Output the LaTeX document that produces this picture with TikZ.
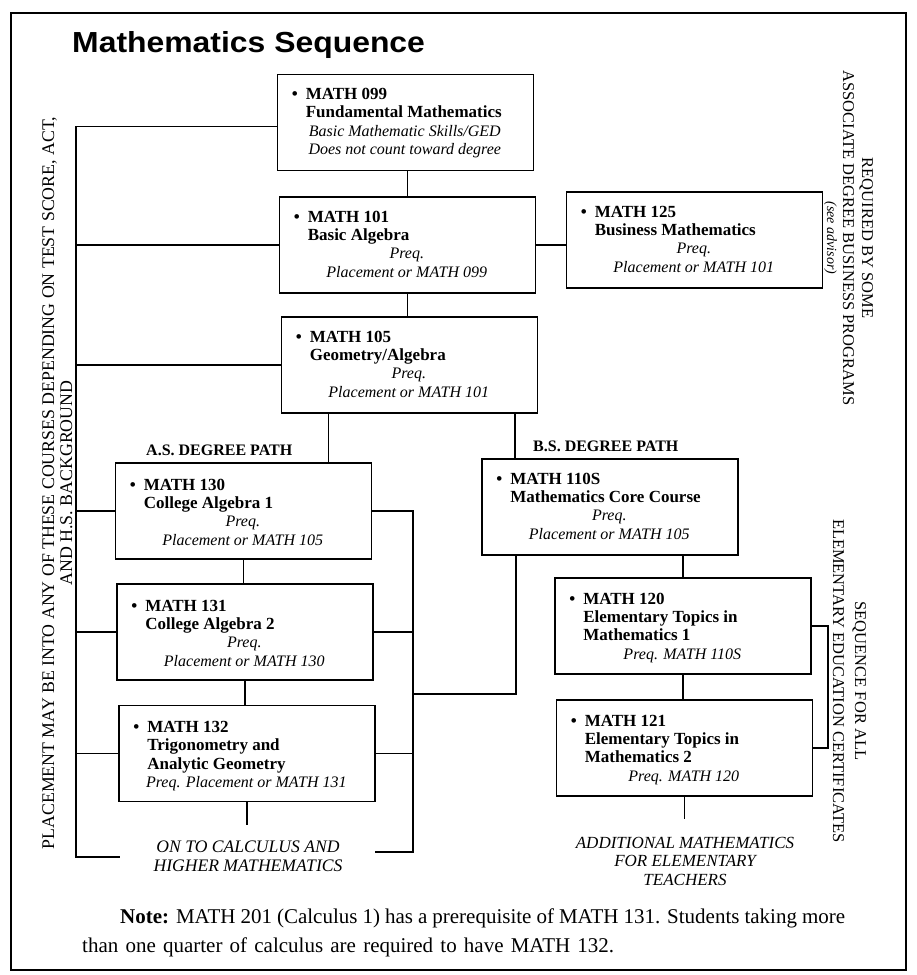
\documentclass[tikz,border=0pt]{standalone}
\usepackage{fontspec}
\setmainfont{Liberation Serif}
\newfontfamily\titlefont{Liberation Sans}
\newcommand\crs[3]{\parbox[t]{226pt}{\fontsize{17}{18.3}\selectfont\raggedright\bfseries\hangindent=14pt\hangafter=1\makebox[14pt][l]{\textbullet}MATH #1\newline #2\par\fontsize{16}{18.3}\selectfont\centering\mdseries\itshape #3\par}}
\begin{document}
\begin{tikzpicture}[x=1pt,y=-1pt,
  course/.style={draw, line width=1.8pt, minimum width=256pt, minimum height=96pt, inner sep=0pt},
  link/.style={line width=1.6pt},
  txt/.style={inner sep=0pt, anchor=base west},
  ctxt/.style={inner sep=0pt, anchor=base}]
\useasboundingbox (0,0) rectangle (917,975);
\draw[line width=2.6pt] (11,13) rectangle (906,970);
\node[txt, xscale=1.1] (title) at (72,52) {\titlefont\bfseries\fontsize{29}{29}\selectfont Mathematics Sequence};
% boxes
\node[course] (b099) at (405.5,122.5) {};
\node[course] (b101) at (407.5,245) {};
\node[course] (b105) at (409.5,365) {};
\node[course] (b125) at (694.5,240) {};
\node[course] (b130) at (243.5,511) {};
\node[course] (b131) at (245,632) {};
\node[course] (b132) at (247,753.5) {};
\node[course] (b110) at (610,507) {};
\node[course] (b120) at (683,626) {};
\node[course] (b121) at (684.5,748) {};
% box texts
\node[txt] (t099) at ([xshift=15pt,yshift=-26pt]b099.north west) {\crs{099}{Fundamental Mathematics}{Basic Mathematic Skills/GED\\Does not count toward degree}};
\node[txt] (t101) at ([xshift=15pt,yshift=-26pt]b101.north west) {\crs{101}{Basic Algebra}{Preq.\\Placement or MATH 099}};
\node[txt] (t105) at ([xshift=15pt,yshift=-26pt]b105.north west) {\crs{105}{Geometry/Algebra}{Preq.\\Placement or MATH 101}};
\node[txt] (t125) at ([xshift=15pt,yshift=-26pt]b125.north west) {\crs{125}{Business Mathematics}{Preq.\\Placement or MATH 101}};
\node[txt] (t130) at ([xshift=15pt,yshift=-28pt]b130.north west) {\crs{130}{College Algebra 1}{Preq.\\Placement or MATH 105}};
\node[txt] (t131) at ([xshift=15pt,yshift=-28pt]b131.north west) {\crs{131}{College Algebra 2}{Preq.\\Placement or MATH 130}};
\node[txt] (t132) at ([xshift=15pt,yshift=-28pt]b132.north west) {\crs{132}{Trigonometry and\newline Analytic Geometry}{Preq. Placement or MATH 131}};
\node[txt] (t110) at ([xshift=15pt,yshift=-26pt]b110.north west) {\crs{110S}{Mathematics Core Course}{Preq.\\Placement or MATH 105}};
\node[txt] (t120) at ([xshift=15pt,yshift=-27pt]b120.north west) {\crs{120}{Elementary Topics in\newline Mathematics 1}{Preq. MATH 110S}};
\node[txt] (t121) at ([xshift=15pt,yshift=-27pt]b121.north west) {\crs{121}{Elementary Topics in\newline Mathematics 2}{Preq. MATH 120}};
% main chain
\draw[link] (b101.north) -- (b101.north |- b099.south);
\draw[link] (b101.south) -- (b101.south |- b105.north);
\draw[link] (b101.east) -- (b101.east -| b125.west);
% left placement bracket
\coordinate (lb) at (76,857);
\coordinate (lbend) at (120,857);
\draw[link] ([yshift=-4pt]b099.west) -| (lb) -- (lbend);
\foreach \b in {101,105,130,131,132} {\draw[link] (b\b.west) -- (b\b.west -| lb);}
% A.S. path
\coordinate (j130) at ([xshift=48pt]b105.south west);
\draw[link] (j130) -- (j130 |- b130.north);
\draw[link] (b130.south) -- (b130.south |- b131.north);
\draw[link] (b131.south) -- (b131.south |- b132.north);
\coordinate (c132) at ([yshift=-23pt]b132.south);
\draw[link] (b132.south) -- (c132);
\coordinate (rb) at (413,852);
\coordinate (rbend) at (375,852);
\draw[link] (b130.east) -| (rb) -- (rbend);
\draw[link] (b131.east) -- (b131.east -| rb);
\draw[link] (b132.east) -- (b132.east -| rb);
% B.S. path
\coordinate (j110) at ([xshift=-23.5pt]b105.south east);
\draw[link] (j110) -- (j110 |- b110.north);
\coordinate (bsj) at (516,694);
\draw[link] (bsj -| rb) -- (bsj) -- (bsj |- b110.south);
\draw[link] (b120.north) -- (b120.north |- b110.south);
\draw[link] (b120.south) -- (b120.south |- b121.north);
\coordinate (c121) at ([yshift=-22pt]b121.south);
\draw[link] (b121.south) -- (c121);
\draw[link] (b120.east) -- ++(16,0) |- (b121.east);
% labels
\node[txt, font=\bfseries\fontsize{16}{18}\selectfont] (as) at (146,455) {A.S. DEGREE PATH};
\node[txt, font=\bfseries\fontsize{16}{18}\selectfont] (bs) at (533,451) {B.S. DEGREE PATH};
\node[ctxt] (oncalc) at (248,852) {\parbox[t]{260pt}{\centering\itshape\fontsize{17.6}{19}\selectfont ON TO CALCULUS AND\\HIGHER MATHEMATICS}};
\node[ctxt] (addl) at (685,848) {\parbox[t]{260pt}{\centering\itshape\fontsize{17}{18.5}\selectfont ADDITIONAL MATHEMATICS\\FOR ELEMENTARY\\TEACHERS}};
% rotated side texts
\node[ctxt, rotate=90] (place) at (54,483) {\parbox[t]{800pt}{\centering\fontsize{17.8}{18}\selectfont PLACEMENT MAY BE INTO ANY OF THESE COURSES DEPENDING ON TEST SCORE, ACT,\\AND H.S. BACKGROUND}};
\node[ctxt, rotate=-90] (bus) at (862,238) {\parbox[t]{400pt}{\centering\fontsize{16.5}{19}\selectfont REQUIRED BY SOME\\ASSOCIATE DEGREE BUSINESS PROGRAMS\\[-3pt]{\fontsize{14}{14}\selectfont\itshape (see advisor)}}};
\node[ctxt, rotate=-90] (elem) at (855,681) {\parbox[t]{400pt}{\centering\fontsize{16.5}{22}\selectfont SEQUENCE FOR ALL\\ELEMENTARY EDUCATION CERTIFICATES}};
% note
\node[txt] (note1) at (120,923) {\fontsize{21}{24}\selectfont\makebox[725pt][s]{\textbf{Note:} MATH 201 (Calculus 1) has a prerequisite of MATH 131. Students taking more}};
\node[txt] (note2) at (82,952) {\fontsize{21}{24}\selectfont\makebox[532pt][s]{than one quarter of calculus are required to have MATH 132.}};
\end{tikzpicture}
\end{document}
